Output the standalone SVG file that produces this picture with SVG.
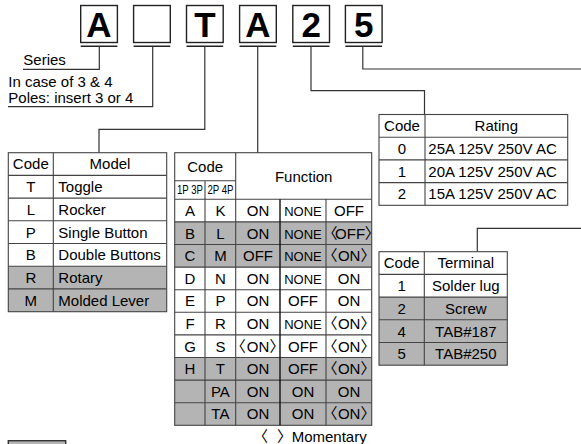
<svg xmlns="http://www.w3.org/2000/svg" width="581" height="444" viewBox="0 0 581 444">
<style>
text{font-family:"Liberation Sans","Noto Sans CJK JP",sans-serif;font-size:15px;fill:#000}
.c{text-anchor:middle}
.big{font-size:35px;font-weight:bold;text-anchor:middle}
.sm{font-size:12px}
.n{font-size:13px}
.box{fill:#fff;stroke:#222;stroke-width:1.4}
.ul{stroke:#222;stroke-width:1.4}
.con{fill:none;stroke:#333;stroke-width:1.2}
.g{fill:#b4b4b4}
.grid{stroke:#444;stroke-width:1.1;fill:none}
.dk{stroke:#111;stroke-width:1.4}
</style>

<g id="code-boxes">
  <g id="box-A1"><rect class="box" x="80.7" y="5.5" width="36.7" height="37"/><text class="big" x="99" y="37.3">A</text><line class="ul" x1="80.7" y1="46.3" x2="117.4" y2="46.3"/></g>
  <g id="box-blank"><rect class="box" x="133.6" y="5.5" width="36.7" height="37"/><line class="ul" x1="133.6" y1="46.3" x2="170.3" y2="46.3"/></g>
  <g id="box-T"><rect class="box" x="186.5" y="5.5" width="36.7" height="37"/><text class="big" x="204.9" y="37.3">T</text><line class="ul" x1="186.5" y1="46.3" x2="223.2" y2="46.3"/></g>
  <g id="box-A2"><rect class="box" x="239.6" y="5.5" width="36.7" height="37"/><text class="big" x="258" y="37.3">A</text><line class="ul" x1="239.6" y1="46.3" x2="276.3" y2="46.3"/></g>
  <g id="box-2"><rect class="box" x="292.8" y="5.5" width="36.7" height="37"/><text class="big" x="311.2" y="37.3">2</text><line class="ul" x1="292.8" y1="46.3" x2="329.5" y2="46.3"/></g>
  <g id="box-5"><rect class="box" x="345.4" y="5.5" width="36.7" height="37"/><text class="big" x="363.8" y="37.3">5</text><line class="ul" x1="345.4" y1="46.3" x2="382.1" y2="46.3"/></g>
</g>

<g id="connectors">
  <polyline class="con" points="99.3,46.3 99.3,69.3 23,69.3"/>
  <polyline class="con" points="152.7,46.3 152.7,106.7 8,106.7"/>
  <polyline class="con" points="204.8,46.3 204.8,129.3 99,129.3 99,152.7"/>
  <polyline class="con" points="257.7,46.3 257.7,152.7"/>
  <polyline class="con" points="311,46.3 311,90.7 424.5,90.7 424.5,114.5"/>
  <polyline class="con" points="362.8,46.3 362.8,69 581,69"/>
  <polyline class="con" points="581,228.3 477.3,228.3 477.3,251.7"/>
</g>

<g id="labels">
  <text x="23.3" y="65">Series</text>
  <text x="8.3" y="87.3">In case of 3 &amp; 4</text>
  <text x="8.3" y="103.3">Poles: insert 3 or 4</text>
</g>

<g id="model-table">
  <rect class="g" x="8.3" y="266.2" width="158.4" height="45.5"/>
  <rect class="grid" x="8.3" y="152.7" width="158.4" height="159"/>
  <path class="grid" d="M53.3,152.7V311.7M8.3,175.4H166.7M8.3,198.1H166.7M8.3,220.8H166.7M8.3,243.5H166.7M8.3,266.2H166.7M8.3,288.9H166.7"/>
  <text class="c" x="30.8" y="169.4">Code</text><text class="c" x="110" y="169.4">Model</text>
  <text class="c" x="30.8" y="192.1">T</text><text x="58.3" y="192.1">Toggle</text>
  <text class="c" x="30.8" y="214.8">L</text><text x="58.3" y="214.8">Rocker</text>
  <text class="c" x="30.8" y="237.5">P</text><text x="58.3" y="237.5">Single Button</text>
  <text class="c" x="30.8" y="260.2">B</text><text x="58.3" y="260.2">Double Buttons</text>
  <text class="c" x="30.8" y="282.9">R</text><text x="58.3" y="282.9">Rotary</text>
  <text class="c" x="30.8" y="305.6">M</text><text x="58.3" y="305.6">Molded Lever</text>
</g>

<g id="function-table">
  <rect class="g" x="174.7" y="221.9" width="197" height="45.2"/>
  <rect class="g" x="174.7" y="357.5" width="197" height="67.8"/>
  <rect class="grid" x="174.7" y="152.7" width="197" height="272.6"/>
  <path class="grid" d="M205,180.7V425.3M235.7,152.7V425.3M326,199.3V425.3M174.7,180.7H235.7M174.7,199.3H371.7M174.7,221.9H371.7M174.7,244.5H371.7M174.7,267.1H371.7M174.7,289.7H371.7M174.7,312.3H371.7M174.7,334.9H371.7M174.7,357.5H371.7M174.7,380.1H371.7M174.7,402.7H371.7"/>
  <line class="dk" x1="280" y1="199.3" x2="280" y2="425.3"/>
  <text class="c" x="205.2" y="172">Code</text>
  <text class="c sm" x="190" y="194.4" textLength="26" lengthAdjust="spacingAndGlyphs">1P 3P</text>
  <text class="c sm" x="220.4" y="194.4" textLength="26" lengthAdjust="spacingAndGlyphs">2P 4P</text>
  <text class="c" x="303.7" y="181.5">Function</text>
  <g class="rows">
    <text class="c" x="190" y="216">A</text><text class="c" x="220.4" y="216">K</text><text class="c" x="258" y="216">ON</text><text class="c n" x="303" y="216">NONE</text><text class="c" x="349" y="216">OFF</text>
    <text class="c" x="190" y="238.6">B</text><text class="c" x="220.4" y="238.6">L</text><text class="c" x="258" y="238.6">ON</text><text class="c n" x="303" y="238.6">NONE</text><text x="322.6 335 346.7 355.9 364.8" y="238.6">〈OFF〉</text>
    <text class="c" x="190" y="261.2">C</text><text class="c" x="220.4" y="261.2">M</text><text class="c" x="258" y="261.2">OFF</text><text class="c n" x="303" y="261.2">NONE</text><text x="322.6 337.9 349.6 360.5" y="261.2">〈ON〉</text>
    <text class="c" x="190" y="283.8">D</text><text class="c" x="220.4" y="283.8">N</text><text class="c" x="258" y="283.8">ON</text><text class="c n" x="303" y="283.8">NONE</text><text class="c" x="349" y="283.8">ON</text>
    <text class="c" x="190" y="306.4">E</text><text class="c" x="220.4" y="306.4">P</text><text class="c" x="258" y="306.4">ON</text><text class="c" x="303" y="306.4">OFF</text><text class="c" x="349" y="306.4">ON</text>
    <text class="c" x="190" y="329">F</text><text class="c" x="220.4" y="329">R</text><text class="c" x="258" y="329">ON</text><text class="c n" x="303" y="329">NONE</text><text x="322.6 337.9 349.6 360.5" y="329">〈ON〉</text>
    <text class="c" x="190" y="351.6">G</text><text class="c" x="220.4" y="351.6">S</text><text x="230.7 246.7 258.4 269.4" y="351.6">〈ON〉</text><text class="c" x="303" y="351.6">OFF</text><text x="322.6 337.9 349.6 360.5" y="351.6">〈ON〉</text>
    <text class="c" x="190" y="374.2">H</text><text class="c" x="220.4" y="374.2">T</text><text class="c" x="258" y="374.2">ON</text><text class="c" x="303" y="374.2">OFF</text><text x="322.6 337.9 349.6 360.5" y="374.2">〈ON〉</text>
    <text class="c" x="220.4" y="396.8">PA</text><text class="c" x="258" y="396.8">ON</text><text class="c" x="303" y="396.8">ON</text><text class="c" x="349" y="396.8">ON</text>
    <text class="c" x="220.4" y="419.4">TA</text><text class="c" x="258" y="419.4">ON</text><text class="c" x="303" y="419.4">ON</text><text x="322.6 337.9 349.6 360.5" y="419.4">〈ON〉</text>
  </g>
  <text x="253" y="441.5">〈<tspan x="277">〉</tspan><tspan x="291.7">Momentary</tspan></text>
</g>

<g id="rating-table">
  <rect class="grid" x="379" y="114.5" width="188.7" height="90.8"/>
  <path class="grid" d="M425,114.5V205.3M379,137.2H567.7M379,159.9H567.7M379,182.6H567.7"/>
  <text class="c" x="402" y="131.2">Code</text><text class="c" x="496.3" y="131.2">Rating</text>
  <text class="c" x="402" y="153.9">0</text><text x="428.3" y="153.9">25A 125V 250V AC</text>
  <text class="c" x="402" y="176.6">1</text><text x="428.3" y="176.6">20A 125V 250V AC</text>
  <text class="c" x="402" y="199.3">2</text><text x="428.3" y="199.3">15A 125V 250V AC</text>
</g>

<g id="terminal-table">
  <rect class="g" x="379" y="297.1" width="128.3" height="68.1"/>
  <rect class="grid" x="379" y="251.7" width="128.3" height="113.5"/>
  <path class="grid" d="M424.3,251.7V365.2M379,274.4H507.3M379,297.1H507.3M379,319.8H507.3M379,342.5H507.3"/>
  <text class="c" x="401.7" y="268.4">Code</text><text class="c" x="465.8" y="268.4">Terminal</text>
  <text class="c" x="401.7" y="291.1">1</text><text class="c" x="465.8" y="291.1">Solder lug</text>
  <text class="c" x="401.7" y="313.8">2</text><text class="c" x="465.8" y="313.8">Screw</text>
  <text class="c" x="401.7" y="336.5">4</text><text class="c" x="465.8" y="336.5">TAB#187</text>
  <text class="c" x="401.7" y="359.2">5</text><text class="c" x="465.8" y="359.2">TAB#250</text>
</g>

<g id="legend-box">
  <rect class="g" x="8.3" y="440.7" width="57.4" height="10" stroke="#333" stroke-width="1.4"/>
</g>
</svg>
